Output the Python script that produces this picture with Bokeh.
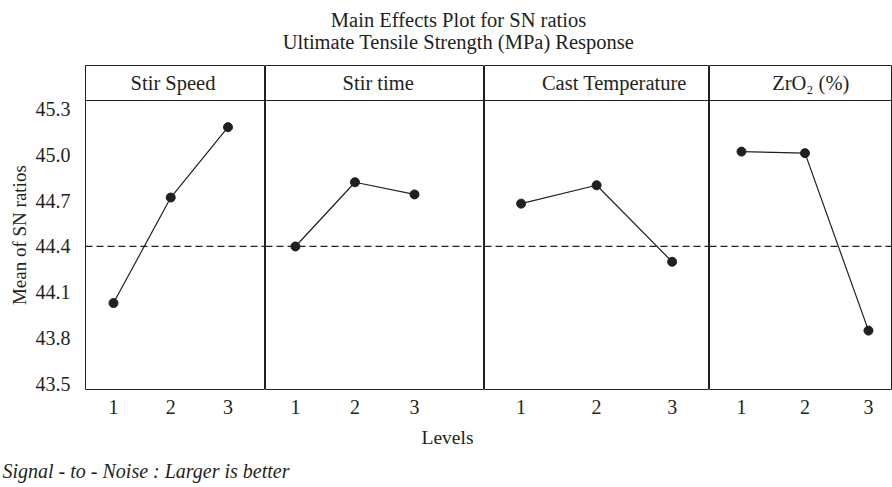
import math
from bokeh.plotting import figure
from bokeh.layouts import column, row
from bokeh.models import Range1d, FixedTicker, Span, ColumnDataSource, PrintfTickFormatter
from bokeh.core.properties import value
from bokeh.embed import file_html
from bokeh.resources import INLINE

# ---------------- data ----------------
levels = [1, 2, 3]
factors = ["Stir Speed", "Stir time", "Cast Temperature", "ZrO\u2082 (%)"]
stir_speed = [44.03, 44.72, 45.18]
stir_time = [44.40, 44.82, 44.74]
cast_temperature = [44.68, 44.80, 44.30]
zro2 = [45.02, 45.01, 43.85]
overall_mean = 44.4
y_ticks = [43.5, 43.8, 44.1, 44.4, 44.7, 45.0, 45.3]
title_lines = ["Main Effects Plot for SN ratios", "Ultimate Tensile Strength (MPa) Response"]
x_title = "Levels"
y_title = "Mean of SN ratios"
footnote = "Signal - to - Noise : Larger is better"

series = [stir_speed, stir_time, cast_temperature, zro2]

# ---------------- layout / style ----------------
FONT = "Liberation Serif"
INK = "#231f20"
panel_w = [180, 219, 225, 183]
x_lims = [(0.511, 3.655), (0.497, 4.176), (0.515, 3.495), (0.496, 3.378)]
header_x = [2.04, 2.39, 2.235, 2.09]
header_y = 45.469      # middle of the facet strip
strip_bottom = 45.354  # line separating facet strip from data area
YLAB_W = 30
LEFT = 55
FIG_H = 361
y_range = Range1d(43.465, 45.583)


def blank(w, h):
    p = figure(width=w, height=h, x_range=Range1d(0, w), y_range=Range1d(0, h),
               output_backend="svg", toolbar_location=None,
               x_axis_location=None, y_axis_location=None,
               min_border_left=0, min_border_right=0, min_border_top=0, min_border_bottom=0)
    p.grid.visible = False
    p.outline_line_color = None
    return p


# title
tfig = blank(892, 60)
tfig.text(x=[458, 458], y=[41, 19], text=title_lines, text_font=value(FONT),
          text_font_size="20.5px", text_align="center", text_baseline="middle", text_color=INK)

# y-axis title strip
yfig = blank(YLAB_W, FIG_H)
yfig.text(x=[19], y=[172], text=[y_title], angle=math.pi / 2, text_font=value(FONT),
          text_font_size="19px", text_align="center", text_baseline="middle", text_color=INK)

panels = []
for i in range(4):
    xr = Range1d(*x_lims[i])
    lb = LEFT if i == 0 else 0
    w = panel_w[i] + lb

    p = figure(width=w, height=FIG_H, x_range=xr, y_range=y_range,
               output_backend="svg", toolbar_location=None,
               y_axis_location=("left" if i == 0 else None),
               min_border_left=lb, min_border_right=0, min_border_top=5, min_border_bottom=32)
    p.grid.visible = False
    p.outline_line_color = INK
    p.outline_line_width = 1
    p.background_fill_color = "white"

    ax = p.xaxis[0]
    ax.ticker = FixedTicker(ticks=levels)
    ax.major_label_text_font = FONT
    ax.major_label_text_font_size = "20px"
    ax.major_label_text_color = INK
    ax.major_tick_line_color = None
    ax.minor_tick_line_color = None
    ax.axis_line_color = None
    ax.major_label_standoff = 4

    if i == 0:
        ay = p.yaxis[0]
        ay.ticker = FixedTicker(ticks=y_ticks)
        ay.formatter = PrintfTickFormatter(format="%.1f")
        ay.major_label_text_font = FONT
        ay.major_label_text_font_size = "20px"
        ay.major_label_text_color = INK
        ay.major_tick_line_color = None
        ay.minor_tick_line_color = None
        ay.axis_line_color = None
        ay.major_label_standoff = 9

    # facet strip
    p.add_layout(Span(location=strip_bottom, dimension="width", line_color=INK, line_width=1))
    p.text(x=[header_x[i]], y=[header_y], text=[factors[i]], text_font=value(FONT),
           text_font_size="20.5px", text_align="center", text_baseline="middle", text_color=INK)

    # reference line and effects
    p.add_layout(Span(location=overall_mean, dimension="width", line_color=INK,
                      line_width=1.2, line_dash="7 4"))
    src = ColumnDataSource(dict(x=levels, y=series[i]))
    p.line("x", "y", source=src, line_color=INK, line_width=1.2)
    p.scatter("x", "y", source=src, size=9, fill_color=INK, line_color=INK)
    panels.append(p)

# bottom: x title and footnote
bfig = blank(892, 66)
bfig.text(x=[447], y=[50], text=[x_title], text_font=value(FONT), text_font_size="19.5px",
          text_align="center", text_baseline="middle", text_color=INK)
bfig.text(x=[2], y=[17], text=[footnote], text_font=value(FONT), text_font_size="20px",
          text_font_style="italic", text_align="left", text_baseline="middle", text_color=INK)

layout = column(tfig, row(yfig, *panels), bfig)
open("out.html", "w").write(file_html(layout, INLINE))
